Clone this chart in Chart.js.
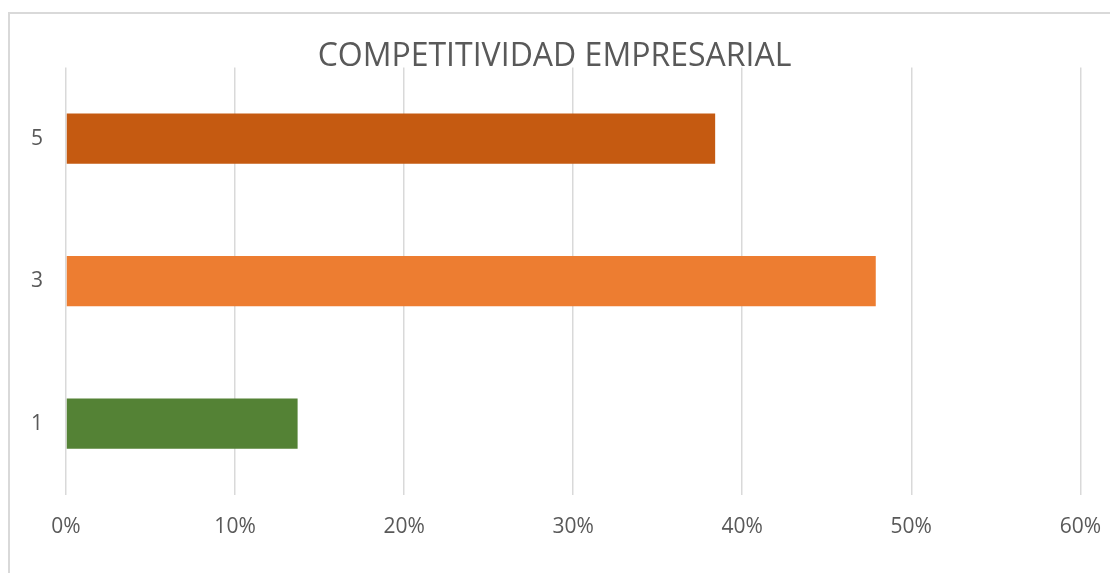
<!DOCTYPE html>
<html>
<head>
<meta charset="utf-8">
<script src="https://cdn.jsdelivr.net/npm/chart.js@4.4.0/dist/chart.umd.min.js"></script>
<style>
  html, body { margin: 0; padding: 0; background: #fff; overflow: hidden; }
  #frame {
    position: absolute; left: 8px; top: 12px;
    width: 1200px; height: 700px;
    border: 2px solid #d9d9d9;
  }
  #wrap { position: absolute; left: 0; top: 0; width: 1121px; height: 573px; }
</style>
</head>
<body>
<div id="frame"></div>
<div id="wrap"><canvas id="bar-chart"></canvas></div>
<script>
// values (percent)
const categories = ["5", "3", "1"];
const values = [38.4, 47.9, 13.7];
const barColors = ["#C55A11", "#ED7D31", "#548235"];
const tickMax = 60;
const tickStep = 10;
const chartTitle = "COMPETITIVIDAD EMPRESARIAL";

const ctx = document.getElementById("bar-chart");
const chart = new Chart(ctx, {
  type: "bar",
  data: {
    labels: categories,
    datasets: [{
      data: values,
      backgroundColor: barColors,
      borderWidth: 0,
      barPercentage: 0.353,
      categoryPercentage: 1
    }]
  },
  options: {
    indexAxis: "y",
    responsive: true,
    maintainAspectRatio: false,
    animation: false,
    layout: { padding: { left: 8, right: 20, top: 0, bottom: 13 } },
    plugins: {
      legend: { display: false },
      tooltip: { enabled: false },
      title: {
        display: true,
        text: chartTitle,
        color: "#595959",
        font: { family: "'Open Sans', sans-serif", size: 32, weight: "normal" },
        padding: { top: 38, bottom: -9 }
      }
    },
    scales: {
      x: {
        min: 0,
        max: tickMax,
        ticks: {
          stepSize: tickStep,
          color: "#595959",
          padding: 20,
          font: { family: "'Open Sans', sans-serif", size: 21 },
          callback: v => v + "%"
        },
        grid: { color: "#d9d9d9", lineWidth: 1.5, drawTicks: false },
        border: { display: false }
      },
      y: {
        ticks: {
          color: "#595959",
          padding: 23,
          font: { family: "'Open Sans', sans-serif", size: 21 }
        },
        grid: { display: false, drawTicks: false },
        border: { display: false }
      }
    }
  }
});
</script>
</body>
</html>
